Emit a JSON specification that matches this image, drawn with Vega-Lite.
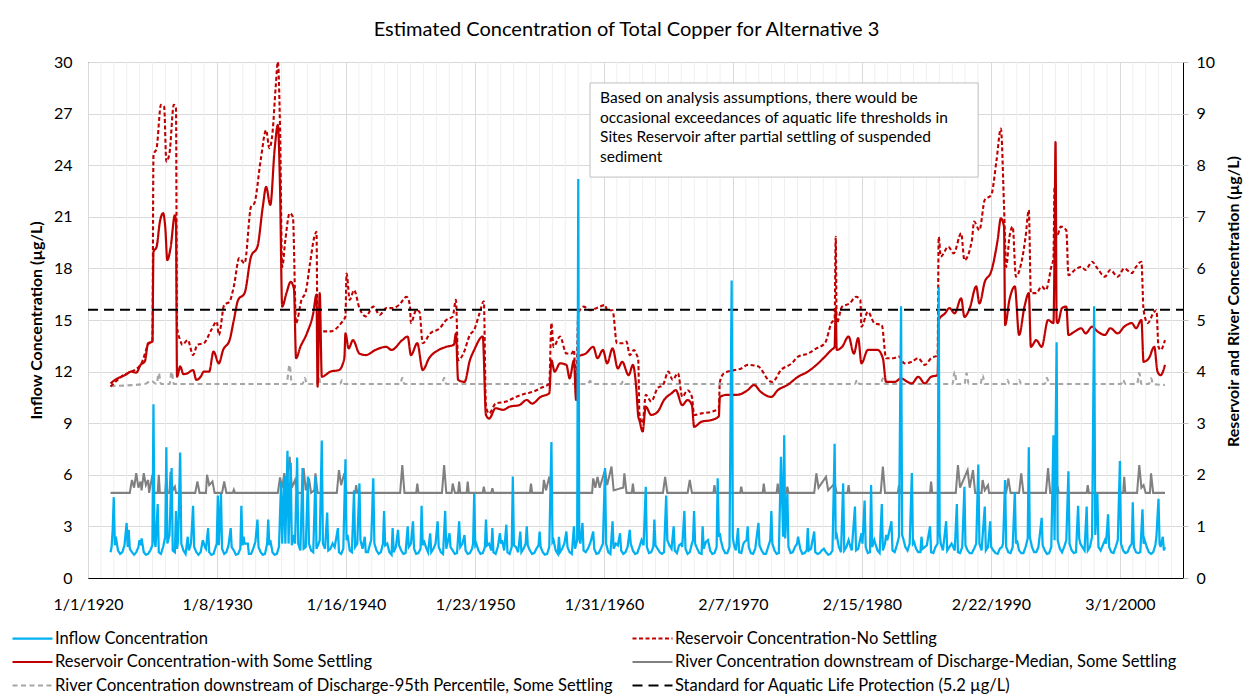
{
"autosize":{"type":"none"},
"width":1095,"height":516,
"padding":{"left":88,"top":62,"right":65,"bottom":119},
"background":"white",
"title":{"text":"Estimated Concentration of Total Copper for Alternative 3","font":"Lato","fontSize":20,"fontWeight":"normal","color":"#000","frame":"group","anchor":"middle","offset":14,"dx":-9},
"config":{
 "view":{"stroke":"#000","strokeWidth":1},
 "axis":{"labelFont":"Lato","titleFont":"Lato","labelFontSize":16,"titleFontSize":16,"labelColor":"#000","titleColor":"#000"},
 "legend":{"orient":"none","legendX":-77,"legendY":568,"columns":2,"symbolType":"stroke","symbolSize":1600,"clipHeight":17,"labelFont":"Lato","labelFontSize":16.5,"labelColor":"#000","labelLimit":1000,"rowPadding":6.5,"columnPadding":17,"padding":0,"labelOffset":1}
},
"datasets":{
 "grid":[{"d":"1921-01-01"},{"d":"1922-01-02"},{"d":"1923-01-03"},{"d":"1924-01-04"},{"d":"1925-01-04"},{"d":"1926-01-05"},{"d":"1927-01-06"},{"d":"1928-01-07"},{"d":"1929-01-07"},{"d":"1931-01-09"},{"d":"1932-01-10"},{"d":"1933-01-10"},{"d":"1934-01-11"},{"d":"1935-01-12"},{"d":"1936-01-13"},{"d":"1937-01-13"},{"d":"1938-01-14"},{"d":"1939-01-15"},{"d":"1941-01-16"},{"d":"1942-01-17"},{"d":"1943-01-18"},{"d":"1944-01-19"},{"d":"1945-01-19"},{"d":"1946-01-20"},{"d":"1947-01-21"},{"d":"1948-01-22"},{"d":"1949-01-22"},{"d":"1951-01-24"},{"d":"1952-01-25"},{"d":"1953-01-25"},{"d":"1954-01-26"},{"d":"1955-01-27"},{"d":"1956-01-28"},{"d":"1957-01-28"},{"d":"1958-01-29"},{"d":"1959-01-30"},{"d":"1961-01-31"},{"d":"1962-02-01"},{"d":"1963-02-02"},{"d":"1964-02-03"},{"d":"1965-02-03"},{"d":"1966-02-04"},{"d":"1967-02-05"},{"d":"1968-02-06"},{"d":"1969-02-06"},{"d":"1971-02-08"},{"d":"1972-02-09"},{"d":"1973-02-09"},{"d":"1974-02-10"},{"d":"1975-02-11"},{"d":"1976-02-12"},{"d":"1977-02-12"},{"d":"1978-02-13"},{"d":"1979-02-14"},{"d":"1981-02-15"},{"d":"1982-02-16"},{"d":"1983-02-17"},{"d":"1984-02-18"},{"d":"1985-02-18"},{"d":"1986-02-19"},{"d":"1987-02-20"},{"d":"1988-02-21"},{"d":"1989-02-21"},{"d":"1991-02-23"},{"d":"1992-02-24"},{"d":"1993-02-24"},{"d":"1994-02-25"},{"d":"1995-02-26"},{"d":"1996-02-27"},{"d":"1997-02-27"},{"d":"1998-02-28"},{"d":"1999-03-01"},{"d":"2001-03-02"},{"d":"2002-03-03"},{"d":"2003-03-04"},{"d":"2004-03-04"}],
 "std":[{"d":"1920-01-01","v":5.2},{"d":"2005-01-24","v":5.2}],
 "annot":[{"d":"1959-01-01","d2":"1989-02-24","v":28.78,"v2":23.31}],
 "note":[{"d":"1959-10-12","v":28.3,"t":["Based on analysis assumptions, there would be","occasional exceedances of aquatic life thresholds in","Sites Reservoir after partial settling of suspended","sediment"]}],
 "ws":[{"d":"1921-10","v":3.77},{"d":"1922-03","v":3.85},{"d":"1922-08","v":3.9},{"d":"1923-01","v":3.95},{"d":"1923-05","v":4.0},{"d":"1923-10","v":3.98},{"d":"1924-02","v":4.13},{"d":"1924-06","v":4.2},{"d":"1924-09","v":4.55},{"d":"1925-01","v":4.58},{"d":"1925-02","v":6.32},{"d":"1925-05","v":6.42},{"d":"1925-08","v":6.9},{"d":"1925-11","v":7.07},{"d":"1926-01","v":6.8},{"d":"1926-03","v":6.16},{"d":"1926-06","v":6.4},{"d":"1926-10","v":7.03},{"d":"1926-11","v":6.9},{"d":"1926-12","v":3.9},{"d":"1927-03","v":4.1},{"d":"1927-06","v":3.95},{"d":"1927-10","v":3.97},{"d":"1928-03","v":4.03},{"d":"1928-06","v":3.84},{"d":"1928-10","v":3.9},{"d":"1929-01","v":4.0},{"d":"1929-06","v":4.0},{"d":"1929-10","v":4.39},{"d":"1930-03","v":4.16},{"d":"1930-07","v":4.42},{"d":"1931-01","v":4.61},{"d":"1931-05","v":5.0},{"d":"1931-09","v":5.39},{"d":"1932-03","v":5.52},{"d":"1932-09","v":6.23},{"d":"1933-03","v":6.42},{"d":"1933-08","v":7.2},{"d":"1933-11","v":7.58},{"d":"1934-03","v":7.23},{"d":"1934-07","v":8.3},{"d":"1934-10","v":8.78},{"d":"1934-12","v":7.58},{"d":"1935-02","v":5.26},{"d":"1935-06","v":5.52},{"d":"1935-10","v":5.74},{"d":"1936-01","v":5.6},{"d":"1936-03","v":4.26},{"d":"1936-07","v":4.48},{"d":"1937-01","v":4.74},{"d":"1937-07","v":5.13},{"d":"1937-10","v":5.49},{"d":"1937-11","v":3.71},{"d":"1938-01","v":5.52},{"d":"1938-03","v":3.9},{"d":"1938-11","v":4.0},{"d":"1939-07","v":4.03},{"d":"1939-12","v":4.26},{"d":"1940-01","v":4.74},{"d":"1940-04","v":4.45},{"d":"1940-08","v":4.61},{"d":"1941-02","v":4.35},{"d":"1941-08","v":4.32},{"d":"1942-05","v":4.42},{"d":"1943-03","v":4.48},{"d":"1943-08","v":4.42},{"d":"1944-06","v":4.61},{"d":"1944-11","v":4.68},{"d":"1945-02","v":4.32},{"d":"1945-08","v":4.55},{"d":"1946-01","v":4.03},{"d":"1946-07","v":4.26},{"d":"1947-04","v":4.42},{"d":"1947-11","v":4.48},{"d":"1948-06","v":4.52},{"d":"1948-08","v":4.74},{"d":"1948-10","v":3.84},{"d":"1949-04","v":3.8},{"d":"1949-09","v":4.22},{"d":"1950-01","v":4.42},{"d":"1950-09","v":4.68},{"d":"1950-12","v":3.16},{"d":"1951-03","v":3.09},{"d":"1951-09","v":3.29},{"d":"1952-04","v":3.26},{"d":"1952-10","v":3.32},{"d":"1953-07","v":3.35},{"d":"1954-02","v":3.45},{"d":"1954-07","v":3.38},{"d":"1955-03","v":3.51},{"d":"1955-11","v":3.58},{"d":"1956-01","v":4.22},{"d":"1956-04","v":4.0},{"d":"1956-09","v":4.16},{"d":"1957-03","v":4.13},{"d":"1957-06","v":3.87},{"d":"1957-10","v":4.22},{"d":"1957-12","v":3.45},{"d":"1958-02","v":4.29},{"d":"1958-09","v":4.35},{"d":"1959-04","v":4.48},{"d":"1959-08","v":4.26},{"d":"1960-01","v":4.42},{"d":"1960-05","v":4.16},{"d":"1960-10","v":4.45},{"d":"1961-03","v":4.06},{"d":"1961-07","v":4.19},{"d":"1962-01","v":3.93},{"d":"1962-05","v":4.13},{"d":"1962-08","v":3.71},{"d":"1962-10","v":3.13},{"d":"1962-11","v":3.06},{"d":"1963-02","v":2.84},{"d":"1963-05","v":3.32},{"d":"1963-10","v":3.16},{"d":"1964-04","v":3.22},{"d":"1964-10","v":3.45},{"d":"1965-05","v":3.58},{"d":"1965-09","v":3.64},{"d":"1966-03","v":3.35},{"d":"1966-08","v":3.45},{"d":"1966-12","v":3.35},{"d":"1967-02","v":2.93},{"d":"1967-09","v":3.03},{"d":"1968-06","v":3.06},{"d":"1969-01","v":3.13},{"d":"1969-02","v":3.51},{"d":"1969-09","v":3.55},{"d":"1970-06","v":3.55},{"d":"1971-04","v":3.64},{"d":"1971-10","v":3.74},{"d":"1972-04","v":3.61},{"d":"1973-02","v":3.51},{"d":"1973-08","v":3.64},{"d":"1974-05","v":3.74},{"d":"1975-03","v":3.9},{"d":"1975-12","v":4.0},{"d":"1976-08","v":4.13},{"d":"1977-04","v":4.29},{"d":"1977-10","v":4.42},{"d":"1978-01","v":4.48},{"d":"1978-02","v":5.23},{"d":"1978-03","v":4.42},{"d":"1978-08","v":4.48},{"d":"1979-02","v":4.68},{"d":"1979-07","v":4.35},{"d":"1979-11","v":4.65},{"d":"1980-02","v":4.16},{"d":"1980-08","v":4.42},{"d":"1981-05","v":4.42},{"d":"1981-10","v":4.26},{"d":"1982-01","v":3.8},{"d":"1982-09","v":3.8},{"d":"1983-03","v":3.87},{"d":"1983-09","v":3.8},{"d":"1984-01","v":3.77},{"d":"1984-07","v":3.9},{"d":"1985-01","v":3.77},{"d":"1985-07","v":3.9},{"d":"1986-01","v":3.93},{"d":"1986-02","v":5.0},{"d":"1986-08","v":5.13},{"d":"1986-12","v":5.23},{"d":"1987-05","v":5.13},{"d":"1987-11","v":5.42},{"d":"1988-02","v":5.06},{"d":"1988-07","v":5.23},{"d":"1989-01","v":5.65},{"d":"1989-04","v":5.32},{"d":"1989-09","v":5.74},{"d":"1990-03","v":5.94},{"d":"1990-09","v":6.55},{"d":"1990-12","v":6.97},{"d":"1991-03","v":6.81},{"d":"1991-04","v":4.9},{"d":"1991-08","v":5.39},{"d":"1992-01","v":5.65},{"d":"1992-05","v":4.71},{"d":"1992-10","v":5.26},{"d":"1993-02","v":5.52},{"d":"1993-04","v":4.48},{"d":"1993-09","v":4.61},{"d":"1994-02","v":4.48},{"d":"1994-08","v":5.0},{"d":"1995-01","v":4.94},{"d":"1995-02","v":6.36},{"d":"1995-03","v":8.45},{"d":"1995-04","v":5.0},{"d":"1995-05","v":4.94},{"d":"1995-09","v":5.23},{"d":"1996-01","v":5.26},{"d":"1996-03","v":4.71},{"d":"1996-09","v":4.78},{"d":"1997-03","v":4.84},{"d":"1997-07","v":4.74},{"d":"1998-01","v":4.87},{"d":"1998-06","v":4.78},{"d":"1999-01","v":4.71},{"d":"1999-06","v":4.84},{"d":"2000-01","v":4.74},{"d":"2000-07","v":4.87},{"d":"2001-02","v":4.94},{"d":"2001-06","v":4.84},{"d":"2001-11","v":5.0},{"d":"2002-01","v":4.19},{"d":"2002-06","v":4.26},{"d":"2002-11","v":4.48},{"d":"2003-02","v":4.0},{"d":"2003-05","v":3.93},{"d":"2003-09","v":4.13}],
 "ns":[{"d":"1921-10","v":3.71},{"d":"1922-08","v":3.9},{"d":"1924-02","v":4.13},{"d":"1924-10","v":4.55},{"d":"1925-01","v":4.58},{"d":"1925-02","v":8.2},{"d":"1925-05","v":8.33},{"d":"1925-09","v":9.17},{"d":"1925-12","v":9.13},{"d":"1926-02","v":8.07},{"d":"1926-05","v":8.23},{"d":"1926-09","v":9.17},{"d":"1926-11","v":9.1},{"d":"1926-12","v":4.87},{"d":"1927-03","v":4.61},{"d":"1927-05","v":4.52},{"d":"1927-10","v":4.61},{"d":"1928-03","v":4.32},{"d":"1928-07","v":4.52},{"d":"1929-01","v":4.55},{"d":"1929-08","v":4.81},{"d":"1930-01","v":4.97},{"d":"1930-03","v":4.71},{"d":"1930-08","v":5.29},{"d":"1931-01","v":5.36},{"d":"1931-05","v":5.65},{"d":"1931-10","v":6.2},{"d":"1932-03","v":6.1},{"d":"1932-09","v":7.2},{"d":"1932-12","v":7.26},{"d":"1933-06","v":8.1},{"d":"1933-11","v":8.68},{"d":"1934-02","v":8.33},{"d":"1934-05","v":8.62},{"d":"1934-08","v":9.52},{"d":"1934-10","v":10.0},{"d":"1934-12","v":8.75},{"d":"1935-02","v":6.03},{"d":"1935-05","v":6.55},{"d":"1935-09","v":7.07},{"d":"1935-12","v":7.0},{"d":"1936-03","v":4.94},{"d":"1936-08","v":5.39},{"d":"1936-12","v":5.55},{"d":"1937-04","v":6.1},{"d":"1937-08","v":6.61},{"d":"1937-10","v":6.71},{"d":"1937-11","v":4.74},{"d":"1938-05","v":4.78},{"d":"1938-11","v":4.78},{"d":"1939-09","v":4.94},{"d":"1940-01","v":5.07},{"d":"1940-02","v":5.9},{"d":"1940-05","v":5.39},{"d":"1940-09","v":5.58},{"d":"1941-02","v":5.23},{"d":"1941-08","v":5.07},{"d":"1942-03","v":5.26},{"d":"1942-09","v":5.1},{"d":"1943-03","v":5.23},{"d":"1943-09","v":5.23},{"d":"1944-03","v":5.29},{"d":"1944-10","v":5.45},{"d":"1945-01","v":5.29},{"d":"1945-02","v":4.94},{"d":"1945-07","v":5.19},{"d":"1945-10","v":5.16},{"d":"1946-01","v":4.55},{"d":"1946-08","v":4.74},{"d":"1947-05","v":4.84},{"d":"1947-11","v":5.0},{"d":"1948-05","v":5.07},{"d":"1948-08","v":5.39},{"d":"1948-10","v":4.22},{"d":"1949-03","v":4.35},{"d":"1949-09","v":4.71},{"d":"1950-01","v":4.81},{"d":"1950-06","v":5.13},{"d":"1950-10","v":5.36},{"d":"1950-12","v":3.32},{"d":"1951-03","v":3.19},{"d":"1951-09","v":3.38},{"d":"1952-07","v":3.42},{"d":"1953-04","v":3.51},{"d":"1954-02","v":3.58},{"d":"1954-08","v":3.61},{"d":"1955-03","v":3.68},{"d":"1955-11","v":3.77},{"d":"1956-01","v":4.94},{"d":"1956-03","v":4.48},{"d":"1956-09","v":4.68},{"d":"1957-03","v":4.35},{"d":"1957-08","v":4.35},{"d":"1957-10","v":4.42},{"d":"1957-12","v":3.58},{"d":"1958-02","v":5.13},{"d":"1958-07","v":5.26},{"d":"1959-01","v":5.19},{"d":"1959-07","v":5.23},{"d":"1960-03","v":5.29},{"d":"1960-05","v":5.19},{"d":"1960-10","v":5.19},{"d":"1961-02","v":4.55},{"d":"1961-08","v":4.55},{"d":"1961-11","v":4.58},{"d":"1962-02","v":4.32},{"d":"1962-06","v":4.42},{"d":"1962-08","v":4.35},{"d":"1962-10","v":4.22},{"d":"1962-11","v":3.19},{"d":"1963-02","v":3.0},{"d":"1963-05","v":3.55},{"d":"1963-10","v":3.42},{"d":"1964-04","v":3.68},{"d":"1964-09","v":3.74},{"d":"1965-02","v":4.0},{"d":"1965-06","v":3.84},{"d":"1965-11","v":3.97},{"d":"1966-03","v":3.51},{"d":"1966-08","v":3.64},{"d":"1966-12","v":3.51},{"d":"1967-02","v":3.16},{"d":"1967-09","v":3.19},{"d":"1968-06","v":3.22},{"d":"1969-01","v":3.29},{"d":"1969-02","v":3.8},{"d":"1969-06","v":3.97},{"d":"1970-04","v":4.03},{"d":"1970-10","v":4.06},{"d":"1971-04","v":4.13},{"d":"1972-02","v":4.1},{"d":"1972-06","v":4.0},{"d":"1972-11","v":3.84},{"d":"1973-03","v":3.8},{"d":"1973-11","v":4.03},{"d":"1974-09","v":4.16},{"d":"1975-03","v":4.29},{"d":"1975-12","v":4.35},{"d":"1976-08","v":4.45},{"d":"1977-04","v":4.55},{"d":"1977-10","v":4.94},{"d":"1978-01","v":5.03},{"d":"1978-02","v":6.61},{"d":"1978-03","v":4.94},{"d":"1978-08","v":5.26},{"d":"1979-03","v":5.32},{"d":"1979-09","v":5.45},{"d":"1980-01","v":5.39},{"d":"1980-02","v":4.87},{"d":"1980-08","v":5.16},{"d":"1981-02","v":4.94},{"d":"1981-09","v":4.9},{"d":"1982-01","v":4.26},{"d":"1982-08","v":4.26},{"d":"1983-01","v":4.29},{"d":"1983-06","v":4.16},{"d":"1984-01","v":4.19},{"d":"1984-07","v":4.26},{"d":"1985-01","v":4.13},{"d":"1985-07","v":4.26},{"d":"1986-01","v":4.32},{"d":"1986-02","v":6.61},{"d":"1986-04","v":6.23},{"d":"1986-11","v":6.42},{"d":"1987-04","v":6.29},{"d":"1987-11","v":6.68},{"d":"1988-02","v":6.16},{"d":"1988-09","v":6.55},{"d":"1988-11","v":6.91},{"d":"1989-04","v":6.74},{"d":"1989-09","v":7.33},{"d":"1990-03","v":7.42},{"d":"1990-08","v":8.1},{"d":"1990-12","v":8.71},{"d":"1991-03","v":7.2},{"d":"1991-05","v":6.03},{"d":"1991-08","v":6.61},{"d":"1991-11","v":6.81},{"d":"1992-02","v":5.84},{"d":"1992-07","v":6.1},{"d":"1992-11","v":6.61},{"d":"1993-02","v":7.13},{"d":"1993-04","v":5.52},{"d":"1993-09","v":5.52},{"d":"1994-02","v":5.65},{"d":"1994-06","v":5.58},{"d":"1994-11","v":6.03},{"d":"1995-01","v":6.2},{"d":"1995-02","v":7.58},{"d":"1995-04","v":6.61},{"d":"1995-08","v":6.81},{"d":"1996-01","v":6.74},{"d":"1996-03","v":5.87},{"d":"1996-09","v":5.97},{"d":"1997-03","v":6.03},{"d":"1997-07","v":5.97},{"d":"1998-01","v":6.13},{"d":"1998-06","v":6.0},{"d":"1999-01","v":5.84},{"d":"1999-06","v":5.97},{"d":"2000-01","v":5.84},{"d":"2000-07","v":6.0},{"d":"2001-02","v":5.91},{"d":"2001-06","v":6.03},{"d":"2001-11","v":6.13},{"d":"2002-01","v":5.19},{"d":"2002-05","v":4.94},{"d":"2002-10","v":5.13},{"d":"2003-01","v":5.19},{"d":"2003-03","v":4.48},{"d":"2003-05","v":4.42},{"d":"2003-09","v":4.61}],
 "p95":[{"d":"1921-10","v":3.72},{"d":"1924-06","v":3.76},{"d":"1924-12","v":3.82},{"d":"1925-05","v":3.76},{"d":"1925-07","v":3.97},{"d":"1925-09","v":3.76},{"d":"1926-05","v":3.76},{"d":"1926-07","v":4.0},{"d":"1926-09","v":3.76},{"d":"1935-06","v":3.76},{"d":"1935-09","v":4.13},{"d":"1935-11","v":3.76},{"d":"1936-09","v":3.76},{"d":"1936-11","v":3.88},{"d":"1937-01","v":3.76},{"d":"1937-10","v":3.76},{"d":"1937-12","v":3.9},{"d":"1938-02","v":3.76},{"d":"1939-08","v":3.76},{"d":"1939-10","v":3.84},{"d":"1939-12","v":3.76},{"d":"1944-04","v":3.76},{"d":"1944-06","v":3.88},{"d":"1944-08","v":3.76},{"d":"1947-07","v":3.76},{"d":"1947-09","v":3.88},{"d":"1947-11","v":3.76},{"d":"1958-11","v":3.76},{"d":"1959-01","v":3.82},{"d":"1959-03","v":3.76},{"d":"1961-06","v":3.76},{"d":"1961-08","v":3.82},{"d":"1961-10","v":3.76},{"d":"1979-08","v":3.76},{"d":"1979-10","v":3.84},{"d":"1979-12","v":3.76},{"d":"1981-08","v":3.76},{"d":"1981-10","v":3.87},{"d":"1981-12","v":3.76},{"d":"1987-03","v":3.76},{"d":"1987-05","v":4.0},{"d":"1987-07","v":3.76},{"d":"1988-02","v":3.76},{"d":"1988-04","v":3.97},{"d":"1988-06","v":3.76},{"d":"1989-05","v":3.76},{"d":"1989-07","v":3.93},{"d":"1989-09","v":3.76},{"d":"1991-04","v":3.76},{"d":"1991-06","v":3.84},{"d":"1991-08","v":3.76},{"d":"1992-03","v":3.76},{"d":"1992-05","v":3.84},{"d":"1992-07","v":3.76},{"d":"1994-05","v":3.76},{"d":"1994-07","v":3.88},{"d":"1994-09","v":3.76},{"d":"2000-04","v":3.76},{"d":"2000-06","v":3.84},{"d":"2000-08","v":3.76},{"d":"2001-07","v":3.76},{"d":"2001-09","v":3.97},{"d":"2001-11","v":3.76},{"d":"2002-06","v":3.76},{"d":"2002-08","v":3.87},{"d":"2002-10","v":3.76},{"d":"2003-09","v":3.74}],
 "med":[{"d":"1921-10","v":1.65},{"d":"1923-04","v":1.65},{"d":"1923-06","v":1.9},{"d":"1923-08","v":1.75},{"d":"1923-10","v":2.03},{"d":"1923-12","v":1.75},{"d":"1924-02","v":1.87},{"d":"1924-03","v":1.7},{"d":"1924-05","v":2.03},{"d":"1924-07","v":1.8},{"d":"1924-09","v":1.9},{"d":"1924-10","v":1.65},{"d":"1925-01","v":2.0},{"d":"1925-02","v":1.65},{"d":"1925-06","v":1.65},{"d":"1925-07","v":2.0},{"d":"1925-08","v":1.65},{"d":"1926-01","v":1.65},{"d":"1926-02","v":1.93},{"d":"1926-03","v":1.65},{"d":"1926-05","v":1.65},{"d":"1926-06","v":2.06},{"d":"1926-08","v":1.7},{"d":"1926-10","v":1.77},{"d":"1926-11","v":1.65},{"d":"1928-05","v":1.65},{"d":"1928-07","v":1.87},{"d":"1928-09","v":1.65},{"d":"1929-03","v":1.65},{"d":"1929-04","v":2.0},{"d":"1929-06","v":1.8},{"d":"1929-09","v":1.87},{"d":"1929-11","v":1.65},{"d":"1930-06","v":1.65},{"d":"1930-08","v":1.87},{"d":"1930-10","v":1.65},{"d":"1931-04","v":1.65},{"d":"1931-05","v":1.71},{"d":"1931-06","v":1.65},{"d":"1934-10","v":1.65},{"d":"1934-12","v":1.95},{"d":"1935-02","v":1.75},{"d":"1935-04","v":2.03},{"d":"1935-06","v":1.8},{"d":"1935-09","v":2.35},{"d":"1935-11","v":1.75},{"d":"1936-02","v":1.9},{"d":"1936-04","v":1.65},{"d":"1936-09","v":1.65},{"d":"1936-10","v":2.13},{"d":"1936-12","v":1.7},{"d":"1937-03","v":1.93},{"d":"1937-05","v":1.65},{"d":"1937-08","v":1.7},{"d":"1937-09","v":2.03},{"d":"1937-11","v":1.65},{"d":"1939-05","v":1.65},{"d":"1939-07","v":2.09},{"d":"1939-09","v":1.8},{"d":"1939-12","v":2.03},{"d":"1940-02","v":1.65},{"d":"1940-10","v":1.65},{"d":"1940-11","v":1.8},{"d":"1940-12","v":1.65},{"d":"1944-04","v":1.65},{"d":"1944-06","v":2.19},{"d":"1944-08","v":1.65},{"d":"1945-07","v":1.65},{"d":"1945-08","v":1.83},{"d":"1945-09","v":1.65},{"d":"1947-07","v":1.65},{"d":"1947-09","v":2.19},{"d":"1947-11","v":1.65},{"d":"1948-04","v":1.65},{"d":"1948-05","v":1.83},{"d":"1948-07","v":1.65},{"d":"1948-10","v":1.65},{"d":"1948-11","v":1.87},{"d":"1948-12","v":1.65},{"d":"1949-06","v":1.65},{"d":"1949-07","v":1.87},{"d":"1949-08","v":1.65},{"d":"1950-09","v":1.65},{"d":"1950-10","v":1.77},{"d":"1950-11","v":1.65},{"d":"1951-05","v":1.65},{"d":"1951-06","v":1.74},{"d":"1951-07","v":1.65},{"d":"1954-05","v":1.65},{"d":"1954-06","v":1.83},{"d":"1954-07","v":1.65},{"d":"1955-05","v":1.65},{"d":"1955-06","v":1.9},{"d":"1955-08","v":1.7},{"d":"1955-11","v":1.96},{"d":"1956-01","v":1.65},{"d":"1959-03","v":1.65},{"d":"1959-04","v":1.93},{"d":"1959-06","v":1.75},{"d":"1959-08","v":1.96},{"d":"1959-10","v":1.75},{"d":"1960-03","v":2.09},{"d":"1960-05","v":1.8},{"d":"1960-09","v":2.16},{"d":"1960-11","v":1.7},{"d":"1961-08","v":1.75},{"d":"1961-09","v":2.03},{"d":"1961-11","v":1.65},{"d":"1962-04","v":1.65},{"d":"1962-05","v":1.83},{"d":"1962-06","v":1.65},{"d":"1964-09","v":1.65},{"d":"1964-11","v":1.96},{"d":"1965-01","v":1.65},{"d":"1966-08","v":1.65},{"d":"1966-10","v":1.9},{"d":"1966-12","v":1.65},{"d":"1968-08","v":1.65},{"d":"1968-09","v":1.8},{"d":"1968-10","v":1.65},{"d":"1970-09","v":1.65},{"d":"1970-10","v":1.77},{"d":"1970-11","v":1.65},{"d":"1972-06","v":1.65},{"d":"1972-07","v":1.83},{"d":"1972-08","v":1.65},{"d":"1973-07","v":1.65},{"d":"1973-08","v":1.83},{"d":"1973-09","v":1.65},{"d":"1974-04","v":1.65},{"d":"1974-05","v":1.77},{"d":"1974-06","v":1.65},{"d":"1976-06","v":1.65},{"d":"1976-08","v":2.03},{"d":"1976-10","v":1.75},{"d":"1977-05","v":1.96},{"d":"1977-07","v":1.7},{"d":"1978-01","v":1.83},{"d":"1978-03","v":1.65},{"d":"1979-01","v":1.65},{"d":"1979-02","v":1.8},{"d":"1979-03","v":1.65},{"d":"1981-08","v":1.65},{"d":"1981-10","v":2.16},{"d":"1981-12","v":1.65},{"d":"1982-12","v":1.65},{"d":"1983-01","v":1.8},{"d":"1983-02","v":1.65},{"d":"1985-06","v":1.65},{"d":"1985-07","v":1.87},{"d":"1985-08","v":1.65},{"d":"1987-06","v":1.65},{"d":"1987-08","v":2.19},{"d":"1987-10","v":1.75},{"d":"1988-05","v":2.09},{"d":"1988-07","v":1.75},{"d":"1988-10","v":2.09},{"d":"1988-12","v":1.65},{"d":"1989-06","v":1.65},{"d":"1989-07","v":1.9},{"d":"1989-09","v":1.7},{"d":"1989-12","v":1.8},{"d":"1990-01","v":1.65},{"d":"1991-05","v":1.65},{"d":"1991-07","v":1.93},{"d":"1991-09","v":1.65},{"d":"1992-05","v":1.65},{"d":"1992-07","v":2.03},{"d":"1992-09","v":1.65},{"d":"1994-06","v":1.65},{"d":"1994-08","v":2.13},{"d":"1994-10","v":1.65},{"d":"1995-04","v":1.65},{"d":"1995-05","v":1.77},{"d":"1995-06","v":1.65},{"d":"1997-08","v":1.65},{"d":"1997-09","v":1.8},{"d":"1997-10","v":1.65},{"d":"2000-06","v":1.65},{"d":"2000-07","v":1.96},{"d":"2000-08","v":1.65},{"d":"2001-07","v":1.65},{"d":"2001-09","v":2.19},{"d":"2001-11","v":1.75},{"d":"2002-01","v":1.8},{"d":"2002-03","v":1.65},{"d":"2002-07","v":1.65},{"d":"2002-08","v":2.03},{"d":"2002-10","v":1.65},{"d":"2003-09","v":1.65}],
 "inflow":[{"d":"1921-10","v":1.5},{"d":"1921-11","v":1.8},{"d":"1921-12","v":2.8},
{"d":"1922-01","v":4.7},{"d":"1922-02","v":1.9},{"d":"1922-03","v":2.4},{"d":"1922-05","v":1.6},{"d":"1922-07","v":1.4},{"d":"1922-09","v":1.5},{"d":"1922-11","v":1.9},
{"d":"1923-01","v":3.2},{"d":"1923-02","v":1.8},{"d":"1923-03","v":2.8},{"d":"1923-04","v":1.7},{"d":"1923-06","v":1.5},{"d":"1923-08","v":1.35},{"d":"1923-10","v":1.5},{"d":"1923-12","v":1.8},
{"d":"1924-01","v":2.2},{"d":"1924-02","v":1.9},{"d":"1924-03","v":2.3},{"d":"1924-05","v":1.5},{"d":"1924-07","v":1.35},{"d":"1924-09","v":1.4},{"d":"1924-11","v":1.6},
{"d":"1925-01","v":1.9},{"d":"1925-02","v":10.1},{"d":"1925-03","v":2.2},{"d":"1925-04","v":1.8},{"d":"1925-06","v":4.3},{"d":"1925-07","v":1.5},{"d":"1925-09","v":1.4},{"d":"1925-11","v":1.8},
{"d":"1926-01","v":2.4},{"d":"1926-02","v":7.6},{"d":"1926-03","v":2.0},{"d":"1926-05","v":2.5},{"d":"1926-07","v":6.4},{"d":"1926-08","v":1.6},{"d":"1926-10","v":1.5},{"d":"1926-11","v":3.9},{"d":"1926-12","v":1.7},
{"d":"1927-01","v":2.2},{"d":"1927-03","v":7.3},{"d":"1927-04","v":2.0},{"d":"1927-06","v":1.6},{"d":"1927-08","v":1.4},{"d":"1927-10","v":2.4},{"d":"1927-11","v":1.6},
{"d":"1928-01","v":2.0},{"d":"1928-03","v":4.2},{"d":"1928-04","v":1.8},{"d":"1928-06","v":1.5},{"d":"1928-08","v":1.35},{"d":"1928-10","v":1.5},{"d":"1928-12","v":2.2},
{"d":"1929-02","v":1.8},{"d":"1929-03","v":1.7},{"d":"1929-05","v":2.9},{"d":"1929-06","v":1.5},{"d":"1929-08","v":1.35},{"d":"1929-10","v":1.4},{"d":"1929-12","v":1.8},
{"d":"1930-01","v":2.0},{"d":"1930-02","v":4.8},{"d":"1930-03","v":1.9},{"d":"1930-05","v":4.9},{"d":"1930-06","v":1.7},{"d":"1930-08","v":1.4},{"d":"1930-10","v":1.5},{"d":"1930-12","v":1.9},
{"d":"1931-02","v":2.9},{"d":"1931-03","v":1.8},{"d":"1931-05","v":1.6},{"d":"1931-07","v":1.35},{"d":"1931-09","v":1.4},{"d":"1931-11","v":1.7},{"d":"1931-12","v":4.2},
{"d":"1932-01","v":1.9},{"d":"1932-02","v":2.4},{"d":"1932-03","v":2.0},{"d":"1932-06","v":2.0},{"d":"1932-07","v":1.4},{"d":"1932-09","v":1.4},{"d":"1932-11","v":1.7},
{"d":"1933-01","v":2.1},{"d":"1933-03","v":3.4},{"d":"1933-04","v":1.8},{"d":"1933-06","v":1.5},{"d":"1933-08","v":1.35},{"d":"1933-10","v":1.4},{"d":"1933-12","v":2.0},
{"d":"1934-01","v":3.4},{"d":"1934-02","v":1.9},{"d":"1934-03","v":2.2},{"d":"1934-05","v":1.5},{"d":"1934-07","v":1.35},{"d":"1934-09","v":1.4},{"d":"1934-11","v":1.8},
{"d":"1935-01","v":5.6},{"d":"1935-02","v":2.0},{"d":"1935-04","v":5.9},{"d":"1935-05","v":2.0},{"d":"1935-07","v":7.4},{"d":"1935-08","v":2.0},{"d":"1935-10","v":6.7},{"d":"1935-11","v":1.9},
{"d":"1936-01","v":2.5},{"d":"1936-02","v":2.0},{"d":"1936-04","v":7.0},{"d":"1936-05","v":2.0},{"d":"1936-07","v":1.6},{"d":"1936-09","v":6.4},{"d":"1936-10","v":1.7},{"d":"1936-12","v":1.8},
{"d":"1937-02","v":5.9},{"d":"1937-03","v":2.0},{"d":"1937-05","v":1.6},{"d":"1937-07","v":1.5},{"d":"1937-09","v":5.9},{"d":"1937-10","v":1.7},{"d":"1937-12","v":2.0},
{"d":"1938-01","v":2.2},{"d":"1938-03","v":8.0},{"d":"1938-04","v":2.0},{"d":"1938-06","v":1.7},{"d":"1938-08","v":3.8},{"d":"1938-09","v":1.6},{"d":"1938-11","v":1.7},
{"d":"1939-01","v":2.0},{"d":"1939-03","v":1.8},{"d":"1939-06","v":2.9},{"d":"1939-07","v":1.5},{"d":"1939-09","v":1.4},{"d":"1939-11","v":1.7},
{"d":"1940-01","v":6.9},{"d":"1940-02","v":2.2},{"d":"1940-03","v":2.5},{"d":"1940-05","v":1.6},{"d":"1940-07","v":1.5},{"d":"1940-09","v":5.1},{"d":"1940-10","v":1.8},{"d":"1940-12","v":2.0},
{"d":"1941-02","v":5.5},{"d":"1941-03","v":2.2},{"d":"1941-05","v":1.7},{"d":"1941-07","v":2.4},{"d":"1941-08","v":1.5},{"d":"1941-10","v":1.5},{"d":"1941-12","v":2.0},
{"d":"1942-01","v":2.2},{"d":"1942-03","v":5.8},{"d":"1942-04","v":2.0},{"d":"1942-06","v":1.6},{"d":"1942-08","v":1.4},{"d":"1942-10","v":1.5},{"d":"1942-12","v":2.0},
{"d":"1943-01","v":3.9},{"d":"1943-02","v":1.9},{"d":"1943-04","v":2.0},{"d":"1943-06","v":1.5},{"d":"1943-08","v":1.35},{"d":"1943-09","v":2.9},{"d":"1943-10","v":1.5},{"d":"1943-12","v":1.8},
{"d":"1944-02","v":2.8},{"d":"1944-03","v":1.9},{"d":"1944-05","v":1.6},{"d":"1944-07","v":1.4},{"d":"1944-09","v":1.45},{"d":"1944-11","v":3.0},{"d":"1944-12","v":1.8},
{"d":"1945-02","v":2.0},{"d":"1945-04","v":3.3},{"d":"1945-05","v":1.7},{"d":"1945-07","v":1.4},{"d":"1945-09","v":1.45},{"d":"1945-11","v":1.7},{"d":"1945-12","v":4.2},
{"d":"1946-01","v":1.9},{"d":"1946-02","v":2.2},{"d":"1946-04","v":1.8},{"d":"1946-06","v":1.5},{"d":"1946-08","v":2.6},{"d":"1946-09","v":1.5},{"d":"1946-11","v":1.7},
{"d":"1947-01","v":2.0},{"d":"1947-03","v":3.3},{"d":"1947-04","v":1.8},{"d":"1947-06","v":1.5},{"d":"1947-08","v":1.4},{"d":"1947-10","v":3.9},{"d":"1947-11","v":1.7},
{"d":"1948-02","v":2.6},{"d":"1948-03","v":1.8},{"d":"1948-05","v":1.6},{"d":"1948-07","v":1.4},{"d":"1948-09","v":1.45},{"d":"1948-11","v":3.3},{"d":"1948-12","v":1.8},
{"d":"1949-02","v":2.0},{"d":"1949-04","v":2.5},{"d":"1949-05","v":1.6},{"d":"1949-07","v":1.4},{"d":"1949-09","v":1.45},{"d":"1949-11","v":1.7},{"d":"1949-12","v":2.0},
{"d":"1950-01","v":4.9},{"d":"1950-02","v":1.9},{"d":"1950-03","v":2.0},{"d":"1950-05","v":1.6},{"d":"1950-07","v":1.4},{"d":"1950-09","v":1.45},{"d":"1950-11","v":1.8},{"d":"1950-12","v":3.4},
{"d":"1951-01","v":1.9},{"d":"1951-03","v":2.0},{"d":"1951-05","v":1.6},{"d":"1951-06","v":2.9},{"d":"1951-07","v":1.5},{"d":"1951-09","v":1.4},{"d":"1951-11","v":1.8},
{"d":"1952-01","v":2.6},{"d":"1952-02","v":2.0},{"d":"1952-03","v":2.2},{"d":"1952-05","v":1.6},{"d":"1952-07","v":3.1},{"d":"1952-08","v":1.5},{"d":"1952-10","v":1.4},{"d":"1952-12","v":1.8},
{"d":"1953-01","v":5.9},{"d":"1953-02","v":1.9},{"d":"1953-04","v":1.8},{"d":"1953-06","v":1.5},{"d":"1953-08","v":2.7},{"d":"1953-09","v":1.5},{"d":"1953-11","v":1.7},
{"d":"1954-01","v":2.0},{"d":"1954-02","v":3.0},{"d":"1954-03","v":1.9},{"d":"1954-05","v":1.6},{"d":"1954-07","v":1.4},{"d":"1954-09","v":1.45},{"d":"1954-11","v":1.7},
{"d":"1955-01","v":1.9},{"d":"1955-02","v":2.7},{"d":"1955-03","v":1.8},{"d":"1955-05","v":1.5},{"d":"1955-07","v":1.35},{"d":"1955-09","v":1.4},{"d":"1955-11","v":1.8},
{"d":"1956-01","v":7.9},{"d":"1956-02","v":2.1},{"d":"1956-03","v":2.2},{"d":"1956-05","v":1.6},{"d":"1956-07","v":1.4},{"d":"1956-08","v":2.4},{"d":"1956-09","v":1.5},{"d":"1956-11","v":1.7},
{"d":"1957-01","v":2.0},{"d":"1957-03","v":2.7},{"d":"1957-04","v":1.8},{"d":"1957-06","v":1.5},{"d":"1957-08","v":1.4},{"d":"1957-10","v":3.0},{"d":"1957-11","v":1.7},
{"d":"1958-01","v":2.2},{"d":"1958-02","v":23.2},{"d":"1958-03","v":2.3},{"d":"1958-04","v":2.0},{"d":"1958-06","v":3.2},{"d":"1958-07","v":1.6},{"d":"1958-09","v":1.5},{"d":"1958-11","v":1.7},
{"d":"1959-01","v":2.0},{"d":"1959-02","v":2.2},{"d":"1959-04","v":2.7},{"d":"1959-05","v":1.7},{"d":"1959-07","v":1.4},{"d":"1959-09","v":1.45},{"d":"1959-11","v":1.7},
{"d":"1960-01","v":2.0},{"d":"1960-03","v":6.4},{"d":"1960-04","v":2.0},{"d":"1960-06","v":1.5},{"d":"1960-08","v":1.4},{"d":"1960-10","v":3.3},{"d":"1960-11","v":1.7},
{"d":"1961-01","v":2.0},{"d":"1961-03","v":1.9},{"d":"1961-05","v":2.6},{"d":"1961-06","v":1.6},{"d":"1961-08","v":1.4},{"d":"1961-10","v":1.5},{"d":"1961-12","v":1.8},
{"d":"1962-02","v":2.8},{"d":"1962-03","v":2.0},{"d":"1962-05","v":1.6},{"d":"1962-07","v":1.4},{"d":"1962-09","v":1.45},{"d":"1962-11","v":1.8},
{"d":"1963-01","v":2.2},{"d":"1963-03","v":1.9},{"d":"1963-05","v":5.3},{"d":"1963-06","v":1.8},{"d":"1963-08","v":1.45},{"d":"1963-10","v":1.5},{"d":"1963-12","v":1.8},
{"d":"1964-01","v":3.4},{"d":"1964-02","v":1.9},{"d":"1964-04","v":1.7},{"d":"1964-06","v":1.5},{"d":"1964-08","v":1.4},{"d":"1964-10","v":1.5},{"d":"1964-12","v":4.8},
{"d":"1965-01","v":2.2},{"d":"1965-03","v":1.9},{"d":"1965-05","v":1.7},{"d":"1965-07","v":3.0},{"d":"1965-08","v":1.6},{"d":"1965-10","v":1.45},{"d":"1965-12","v":1.9},
{"d":"1966-02","v":2.0},{"d":"1966-03","v":1.8},{"d":"1966-05","v":3.9},{"d":"1966-06","v":1.7},{"d":"1966-08","v":1.4},{"d":"1966-10","v":1.5},{"d":"1966-12","v":2.0},
{"d":"1967-01","v":2.2},{"d":"1967-02","v":3.9},{"d":"1967-03","v":2.0},{"d":"1967-05","v":1.7},{"d":"1967-07","v":1.45},{"d":"1967-09","v":1.4},{"d":"1967-10","v":3.0},{"d":"1967-11","v":1.7},
{"d":"1968-01","v":2.1},{"d":"1968-03","v":2.2},{"d":"1968-05","v":1.6},{"d":"1968-07","v":1.4},{"d":"1968-09","v":1.45},{"d":"1968-11","v":1.8},{"d":"1968-12","v":5.8},
{"d":"1969-01","v":2.4},{"d":"1969-02","v":2.6},{"d":"1969-03","v":2.2},{"d":"1969-05","v":1.7},{"d":"1969-07","v":1.45},{"d":"1969-09","v":1.45},{"d":"1969-11","v":1.8},
{"d":"1970-01","v":17.3},{"d":"1970-02","v":2.4},{"d":"1970-03","v":2.0},{"d":"1970-05","v":1.6},{"d":"1970-07","v":2.9},{"d":"1970-08","v":1.5},{"d":"1970-10","v":1.45},{"d":"1970-12","v":2.0},
{"d":"1971-01","v":2.1},{"d":"1971-03","v":2.2},{"d":"1971-04","v":3.0},{"d":"1971-05","v":1.8},{"d":"1971-07","v":1.45},{"d":"1971-09","v":1.4},{"d":"1971-11","v":1.7},
{"d":"1972-02","v":3.2},{"d":"1972-03","v":1.9},{"d":"1972-05","v":1.6},{"d":"1972-07","v":1.4},{"d":"1972-09","v":1.4},{"d":"1972-11","v":1.8},
{"d":"1973-01","v":2.2},{"d":"1973-02","v":3.9},{"d":"1973-03","v":2.0},{"d":"1973-05","v":1.6},{"d":"1973-07","v":1.4},{"d":"1973-09","v":1.45},{"d":"1973-11","v":7.05},
{"d":"1974-01","v":2.4},{"d":"1974-02","v":8.3},{"d":"1974-03","v":2.3},{"d":"1974-05","v":4.9},{"d":"1974-06","v":1.8},{"d":"1974-08","v":1.45},{"d":"1974-10","v":1.5},{"d":"1974-12","v":1.8},
{"d":"1975-02","v":2.0},{"d":"1975-03","v":2.4},{"d":"1975-05","v":1.7},{"d":"1975-07","v":1.4},{"d":"1975-09","v":1.45},{"d":"1975-11","v":1.6},{"d":"1975-12","v":2.9},
{"d":"1976-01","v":1.6},{"d":"1976-03","v":1.7},{"d":"1976-06","v":2.7},{"d":"1976-07","v":1.5},{"d":"1976-09","v":1.4},{"d":"1976-11","v":1.45},
{"d":"1977-01","v":1.6},{"d":"1977-03","v":1.7},{"d":"1977-05","v":1.5},{"d":"1977-07","v":1.35},{"d":"1977-09","v":1.4},{"d":"1977-11","v":1.6},
{"d":"1978-01","v":7.8},{"d":"1978-02","v":2.4},{"d":"1978-03","v":2.5},{"d":"1978-05","v":1.8},{"d":"1978-07","v":1.5},{"d":"1978-09","v":5.5},{"d":"1978-10","v":1.6},{"d":"1978-12","v":1.8},
{"d":"1979-02","v":2.2},{"d":"1979-03","v":2.0},{"d":"1979-05","v":1.6},{"d":"1979-08","v":4.15},{"d":"1979-09","v":1.6},{"d":"1979-11","v":1.7},
{"d":"1980-01","v":2.3},{"d":"1980-02","v":2.6},{"d":"1980-03","v":2.0},{"d":"1980-05","v":4.5},{"d":"1980-06","v":1.8},{"d":"1980-08","v":1.45},{"d":"1980-10","v":1.5},{"d":"1980-11","v":5.4},{"d":"1980-12","v":1.8},
{"d":"1981-02","v":2.2},{"d":"1981-03","v":2.0},{"d":"1981-05","v":1.6},{"d":"1981-07","v":1.45},{"d":"1981-09","v":4.3},{"d":"1981-10","v":1.6},{"d":"1981-12","v":2.0},
{"d":"1982-01","v":2.5},{"d":"1982-02","v":2.2},{"d":"1982-03","v":2.4},{"d":"1982-06","v":3.3},{"d":"1982-07","v":1.6},{"d":"1982-09","v":1.5},{"d":"1982-11","v":1.9},
{"d":"1983-01","v":2.4},{"d":"1983-03","v":15.8},{"d":"1983-04","v":2.5},{"d":"1983-05","v":2.3},{"d":"1983-07","v":1.8},{"d":"1983-09","v":1.6},{"d":"1983-11","v":2.0},
{"d":"1984-01","v":6.1},{"d":"1984-02","v":2.0},{"d":"1984-03","v":2.1},{"d":"1984-05","v":1.7},{"d":"1984-07","v":1.5},{"d":"1984-09","v":1.5},{"d":"1984-10","v":2.4},{"d":"1984-11","v":1.7},
{"d":"1985-01","v":1.8},{"d":"1985-03","v":1.9},{"d":"1985-06","v":3.0},{"d":"1985-07","v":1.5},{"d":"1985-09","v":1.45},{"d":"1985-11","v":1.8},
{"d":"1986-01","v":2.0},{"d":"1986-02","v":16.9},{"d":"1986-03","v":2.6},{"d":"1986-04","v":2.0},{"d":"1986-06","v":1.6},{"d":"1986-09","v":3.3},{"d":"1986-10","v":1.6},{"d":"1986-12","v":1.8},
{"d":"1987-02","v":2.0},{"d":"1987-03","v":1.9},{"d":"1987-05","v":1.6},{"d":"1987-07","v":4.3},{"d":"1987-08","v":1.5},{"d":"1987-10","v":1.45},{"d":"1987-12","v":1.8},
{"d":"1988-02","v":5.3},{"d":"1988-03","v":1.9},{"d":"1988-05","v":1.6},{"d":"1988-07","v":1.45},{"d":"1988-09","v":1.45},{"d":"1988-11","v":1.7},
{"d":"1989-01","v":2.0},{"d":"1989-03","v":6.6},{"d":"1989-04","v":2.0},{"d":"1989-06","v":1.6},{"d":"1989-09","v":4.15},{"d":"1989-10","v":1.6},{"d":"1989-12","v":1.8},
{"d":"1990-02","v":3.3},{"d":"1990-03","v":1.8},{"d":"1990-05","v":1.6},{"d":"1990-07","v":1.45},{"d":"1990-09","v":1.4},{"d":"1990-11","v":1.7},
{"d":"1991-01","v":1.8},{"d":"1991-02","v":2.0},{"d":"1991-04","v":5.7},{"d":"1991-05","v":1.8},{"d":"1991-07","v":1.5},{"d":"1991-09","v":1.45},{"d":"1991-11","v":1.8},
{"d":"1992-01","v":5.0},{"d":"1992-02","v":2.0},{"d":"1992-03","v":2.2},{"d":"1992-05","v":1.6},{"d":"1992-07","v":1.45},{"d":"1992-09","v":1.45},{"d":"1992-11","v":1.8},
{"d":"1993-01","v":2.3},{"d":"1993-02","v":7.6},{"d":"1993-03","v":2.4},{"d":"1993-05","v":1.8},{"d":"1993-07","v":1.5},{"d":"1993-09","v":1.5},{"d":"1993-11","v":1.8},
{"d":"1994-02","v":3.5},{"d":"1994-03","v":1.9},{"d":"1994-05","v":1.6},{"d":"1994-07","v":1.4},{"d":"1994-09","v":1.45},{"d":"1994-11","v":1.8},
{"d":"1995-01","v":8.3},{"d":"1995-02","v":2.2},{"d":"1995-04","v":13.7},{"d":"1995-05","v":2.2},{"d":"1995-07","v":1.7},{"d":"1995-09","v":1.5},{"d":"1995-11","v":1.8},
{"d":"1996-01","v":2.2},{"d":"1996-03","v":6.2},{"d":"1996-04","v":2.0},{"d":"1996-06","v":1.6},{"d":"1996-08","v":1.45},{"d":"1996-10","v":1.5},{"d":"1996-12","v":4.2},
{"d":"1997-01","v":2.3},{"d":"1997-02","v":2.0},{"d":"1997-04","v":1.8},{"d":"1997-06","v":1.6},{"d":"1997-08","v":4.15},{"d":"1997-09","v":1.6},{"d":"1997-11","v":1.8},
{"d":"1998-01","v":2.4},{"d":"1998-03","v":15.8},{"d":"1998-04","v":2.5},{"d":"1998-06","v":4.9},{"d":"1998-07","v":1.8},{"d":"1998-09","v":1.6},{"d":"1998-11","v":1.9},
{"d":"1999-01","v":2.2},{"d":"1999-02","v":2.0},{"d":"1999-04","v":3.7},{"d":"1999-05","v":1.8},{"d":"1999-07","v":1.5},{"d":"1999-09","v":1.45},{"d":"1999-11","v":1.8},
{"d":"2000-01","v":2.2},{"d":"2000-03","v":6.8},{"d":"2000-04","v":2.0},{"d":"2000-06","v":1.6},{"d":"2000-08","v":1.45},{"d":"2000-10","v":1.5},{"d":"2000-12","v":1.8},
{"d":"2001-02","v":2.0},{"d":"2001-03","v":4.4},{"d":"2001-04","v":1.8},{"d":"2001-06","v":1.5},{"d":"2001-08","v":1.45},{"d":"2001-10","v":1.5},{"d":"2001-12","v":4.0},
{"d":"2002-01","v":2.0},{"d":"2002-02","v":2.2},{"d":"2002-04","v":1.8},{"d":"2002-06","v":1.5},{"d":"2002-08","v":1.4},{"d":"2002-10","v":1.5},{"d":"2002-12","v":1.9},
{"d":"2003-01","v":2.4},{"d":"2003-03","v":4.6},{"d":"2003-04","v":2.0},{"d":"2003-05","v":1.8},{"d":"2003-07","v":2.4},{"d":"2003-08","v":1.6},{"d":"2003-09","v":1.8}]
},
"encoding":{"x":{"field":"d","type":"temporal","scale":{"type":"utc","domain":[{"year":1920,"month":1,"date":1,"utc":true},{"year":2005,"month":1,"date":24,"utc":true}],"nice":false},"axis":{"values":[{"year":1920,"month":1,"date":1,"utc":true},{"year":1930,"month":1,"date":8,"utc":true},{"year":1940,"month":1,"date":16,"utc":true},{"year":1950,"month":1,"date":23,"utc":true},{"year":1960,"month":1,"date":31,"utc":true},{"year":1970,"month":2,"date":7,"utc":true},{"year":1980,"month":2,"date":15,"utc":true},{"year":1990,"month":2,"date":22,"utc":true},{"year":2000,"month":3,"date":1,"utc":true}],"labelExpr":"utcFormat(datum.value, '%-m/%-d/%Y')","grid":true,"gridColor":"#D9D9D9","ticks":false,"domain":true,"domainColor":"#000","labelPadding":18,"labelFlush":false,"labelOverlap":false,"title":null}}},
"layer":[
 {"data":{"name":"grid"},"mark":{"type":"rule","color":"#EFEFEF","strokeWidth":1}},
 {"encoding":{"y":{"field":"v","type":"quantitative","scale":{"domain":[0,10],"nice":false},"axis":{"orient":"right","values":[0,1,2,3,4,5,6,7,8,9,10],"grid":false,"domain":false,"ticks":true,"tickSize":5,"tickColor":"#BFBFBF","labelPadding":8,"title":"Reservoir and River Concentration (µg/L)","titleAngle":270,"titleFontWeight":"bold","titlePadding":27,"titleY":239}}},
  "layer":[
   {"data":{"name":"p95"},"mark":{"type":"line","interpolate":"monotone"},"encoding":{
    "color":{"datum":"River Concentration downstream of Discharge-95th Percentile, Some Settling","type":"nominal","scale":{"domain":["Inflow Concentration","Reservoir Concentration-with Some Settling","River Concentration downstream of Discharge-95th Percentile, Some Settling","Reservoir Concentration-No Settling","River Concentration downstream of Discharge-Median, Some Settling","Standard for Aquatic Life Protection (5.2 µg/L)"],"range":["#00B0F0","#C00000","#A6A6A6","#C00000","#808080","#000000"]},"legend":{"title":null}},
    "strokeDash":{"datum":"River Concentration downstream of Discharge-95th Percentile, Some Settling","type":"nominal","scale":{"domain":["Inflow Concentration","Reservoir Concentration-with Some Settling","River Concentration downstream of Discharge-95th Percentile, Some Settling","Reservoir Concentration-No Settling","River Concentration downstream of Discharge-Median, Some Settling","Standard for Aquatic Life Protection (5.2 µg/L)"],"range":[[1,0],[1,0],[5,3.5],[4,2.5],[1,0],[10,6]]},"legend":{"title":null}},
    "strokeWidth":{"datum":"River Concentration downstream of Discharge-95th Percentile, Some Settling","type":"nominal","scale":{"domain":["Inflow Concentration","Reservoir Concentration-with Some Settling","River Concentration downstream of Discharge-95th Percentile, Some Settling","Reservoir Concentration-No Settling","River Concentration downstream of Discharge-Median, Some Settling","Standard for Aquatic Life Protection (5.2 µg/L)"],"range":[2.25,2,2.25,2,2.25,3]},"legend":{"title":null}}}},
   {"data":{"name":"med"},"mark":{"type":"line","interpolate":"linear"},"encoding":{
    "color":{"datum":"River Concentration downstream of Discharge-Median, Some Settling","type":"nominal"},
    "strokeDash":{"datum":"River Concentration downstream of Discharge-Median, Some Settling","type":"nominal"},
    "strokeWidth":{"datum":"River Concentration downstream of Discharge-Median, Some Settling","type":"nominal"}}},
   {"data":{"name":"ns"},"mark":{"type":"line","interpolate":"monotone"},"encoding":{
    "color":{"datum":"Reservoir Concentration-No Settling","type":"nominal"},
    "strokeDash":{"datum":"Reservoir Concentration-No Settling","type":"nominal"},
    "strokeWidth":{"datum":"Reservoir Concentration-No Settling","type":"nominal"}}},
   {"data":{"name":"ws"},"mark":{"type":"line","interpolate":"monotone"},"encoding":{
    "color":{"datum":"Reservoir Concentration-with Some Settling","type":"nominal"},
    "strokeDash":{"datum":"Reservoir Concentration-with Some Settling","type":"nominal"},
    "strokeWidth":{"datum":"Reservoir Concentration-with Some Settling","type":"nominal"}}},
   {"data":{"name":"std"},"mark":{"type":"line"},"encoding":{
    "color":{"datum":"Standard for Aquatic Life Protection (5.2 µg/L)","type":"nominal"},
    "strokeDash":{"datum":"Standard for Aquatic Life Protection (5.2 µg/L)","type":"nominal"},
    "strokeWidth":{"datum":"Standard for Aquatic Life Protection (5.2 µg/L)","type":"nominal"}}}
  ]},
 {"encoding":{"y":{"field":"v","type":"quantitative","scale":{"domain":[0,30],"nice":false},"axis":{"orient":"left","values":[0,3,6,9,12,15,18,21,24,27,30],"grid":true,"gridColor":"#D9D9D9","domain":false,"ticks":false,"labelPadding":16,"title":"Inflow Concentration (µg/L)","titleFontWeight":"bold","titlePadding":9}}},
  "layer":[
   {"data":{"name":"annot","format":{"parse":{"d":"date","d2":"date"}}},"mark":{"type":"rect","fill":"white","stroke":"#BFBFBF","strokeWidth":1},"encoding":{"x2":{"field":"d2"},"y2":{"field":"v2"}}},
   {"data":{"name":"inflow"},"mark":{"type":"line","interpolate":"linear"},"encoding":{
    "color":{"datum":"Inflow Concentration","type":"nominal"},
    "strokeDash":{"datum":"Inflow Concentration","type":"nominal"},
    "strokeWidth":{"datum":"Inflow Concentration","type":"nominal"}}},
   {"data":{"name":"note"},"mark":{"type":"text","align":"left","baseline":"top","font":"Lato","fontSize":15.5,"lineHeight":19.5,"color":"#000"},"encoding":{"text":{"field":"t","type":"nominal"}}}
  ]}
],
"resolve":{"scale":{"y":"independent"}}
}
